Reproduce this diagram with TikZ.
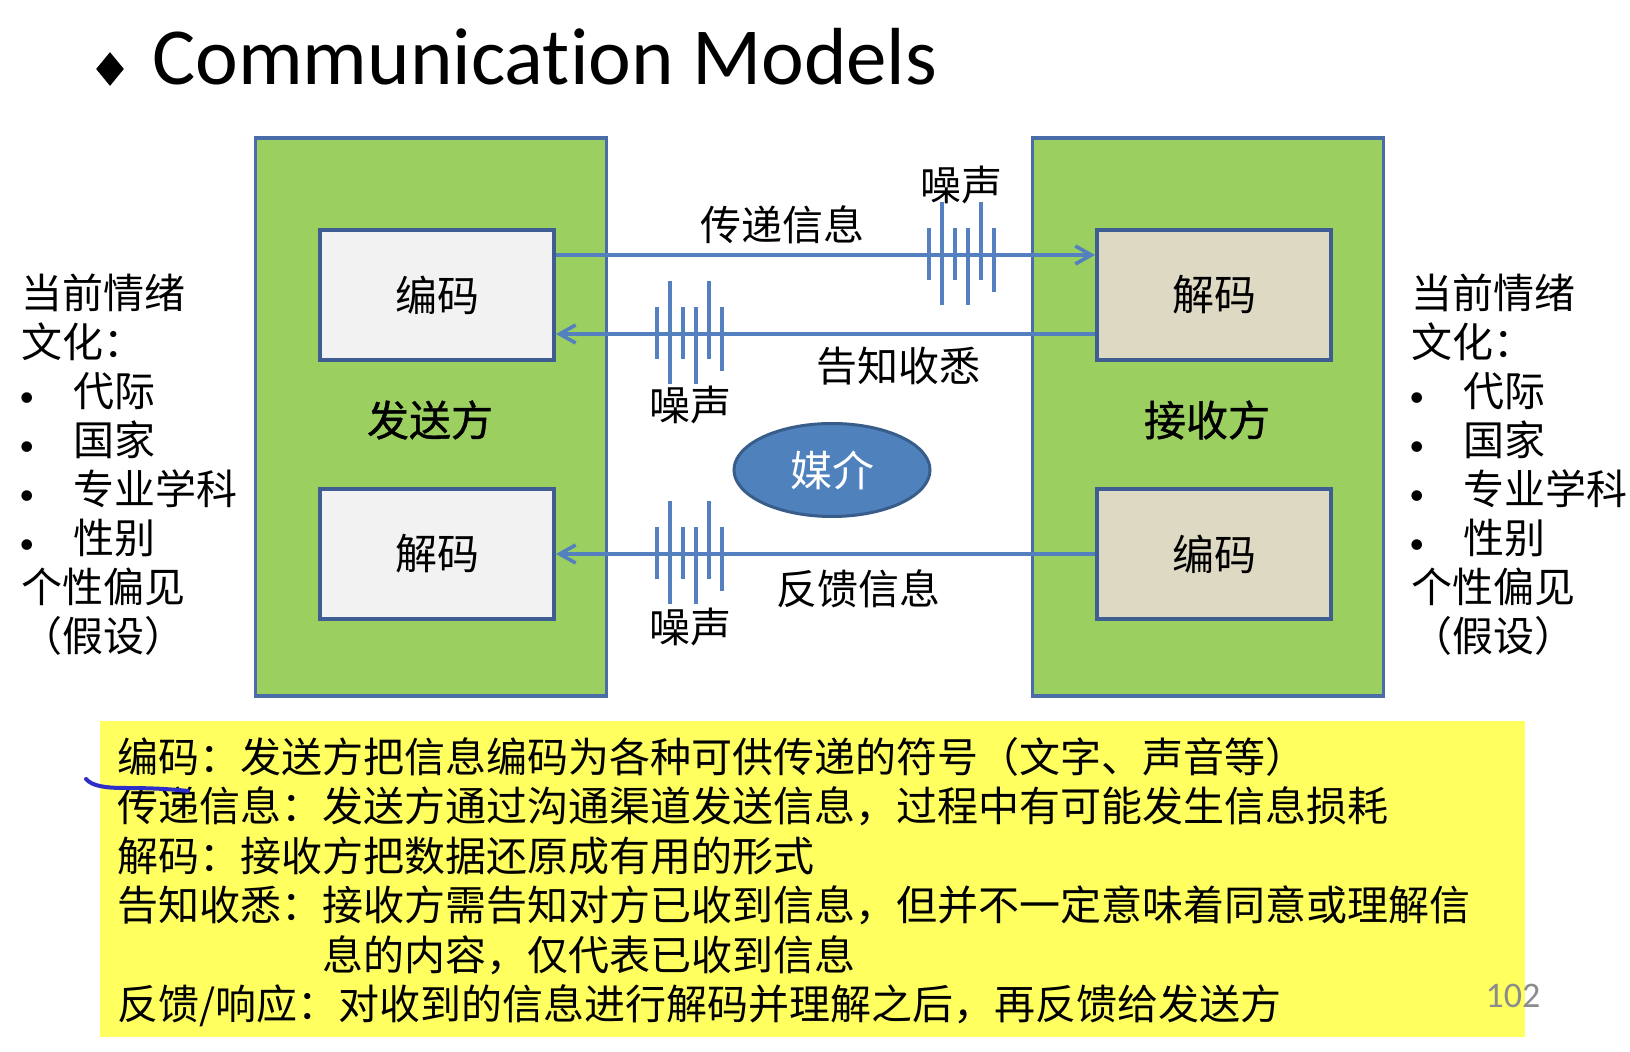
\documentclass[tikz,border=0pt]{standalone}
\usepackage{fontspec}
\setmainfont{Noto Sans CJK SC}
\newfontfamily\latinfont[Ligatures=NoCommon]{Carlito}
\newfontfamily\rolefont[FakeBold=1]{Noto Sans CJK SC}
\usepackage{xcolor}
\usepackage{tikz}
\usetikzlibrary{shapes.geometric, arrows.meta, positioning}

\definecolor{panelgreen}{HTML}{9BCF5F}
\definecolor{panelblue}{HTML}{4A6CA8}
\definecolor{boxblue}{HTML}{3E5D93}
\definecolor{boxgrey}{HTML}{F2F2F2}
\definecolor{boxtan}{HTML}{DDD9C3}
\definecolor{linkblue}{HTML}{5580C0}
\definecolor{mediumfill}{HTML}{4F81BD}
\definecolor{mediumdraw}{HTML}{385D8A}
\definecolor{noteyellow}{HTML}{FFFF5F}
\definecolor{penblue}{HTML}{2E2EC8}
\definecolor{pagegrey}{HTML}{8C8C8C}

\newcommand{\itm}{\makebox[26pt][l]{\hspace{-1pt}{\latinfont\fontsize{15pt}{15pt}\selectfont\textbullet}}}

\begin{document}
\begin{tikzpicture}[
    x=0.5pt, y=-0.5pt,
    panel/.style={rectangle, draw=panelblue, line width=1.6pt, fill=panelgreen, minimum width=175.5pt, minimum height=279pt},
    codebox/.style={rectangle, draw=boxblue, line width=2pt, minimum width=117pt, minimum height=65pt, font=\fontsize{21pt}{25pt}\selectfont},
    role/.style={font=\rolefont\fontsize{21pt}{25pt}\selectfont, inner sep=0pt},
    medium/.style={ellipse, draw=mediumdraw, line width=1.5pt, fill=mediumfill, text=white, minimum width=98pt, minimum height=46.5pt, font=\fontsize{21pt}{25pt}\selectfont},
    flow/.style={-{Straight Barb[length=8pt, width=9pt]}, line width=1.8pt, draw=linkblue},
    lbl/.style={font=\fontsize{20.5pt}{25pt}\selectfont, inner sep=0pt},
    noiseline/.style={line width=1.8pt, draw=linkblue},
    noise/.pic={
      \foreach \dx/\a/\b in {0/-27/25, 13/-53/50, 26/-27/25, 39/-27/50, 52/-53/25, 65/-27/37}
        \draw[noiseline] (\dx,\a) -- (\dx,\b);
    },
    factors/.style={anchor=north west, align=left, inner sep=0pt, font=\fontsize{20.5pt}{24.5pt}\selectfont},
    notes/.style={anchor=north west, align=left, inner sep=0pt, font=\fontsize{20.5pt}{24.7pt}\selectfont},
    pen/.style={draw=penblue, line width=2pt, line cap=round}
  ]

    \fill[white] (0,0) rectangle (1630,1052);
    \useasboundingbox (0,0) rectangle (1630,1052);

    % Title
    \node[diamond, fill=black, inner sep=0pt, minimum width=14pt, minimum height=17pt] (mark) at (110,69) {};
    \node[anchor=base west, inner sep=0pt, font=\latinfont\fontsize{40.5pt}{48pt}\selectfont] (title) at (152,85) {Communication Models};

    % Sender and receiver
    \node[panel] (sender) at (431,417) {};
    \node[panel] (receiver) at (1208,417) {};
    \node[codebox, fill=boxgrey] (senc) at (437,295) {编码};
    \node[codebox, fill=boxgrey] (sdec) at (437,554) {解码};
    \node[codebox, fill=boxtan] (rdec) at (1214,295) {解码};
    \node[codebox, fill=boxtan] (renc) at (1214,554) {编码};
    \node[role] (sname) at (430,420) {发送方};
    \node[role] (rname) at (1207,420) {接收方};

    % Medium
    \node[medium] (media) at (832,470) {媒介};

    % Flows
    \draw[flow] ([yshift=20pt]senc.east) -- node[lbl, pos=0.42, yshift=15pt] (msg) {传递信息} ([yshift=20pt]rdec.west);
    \draw[flow] ([yshift=-19.5pt]rdec.west) -- node[lbl, pos=0.365, yshift=-16pt] (ack) {告知收悉} ([yshift=-19.5pt]senc.east);
    \draw[flow] (renc.west) -- node[lbl, pos=0.438, yshift=-17.5pt] (fb) {反馈信息} (sdec.east);

    % Noise
    \pic at (929,255) {noise};
    \pic at (657,334) {noise};
    \pic at (657,554) {noise};
    \node[lbl] (noise1) at (961,185) {噪声};
    \node[lbl] (noise2) at (690,405) {噪声};
    \node[lbl] (noise3) at (690,627) {噪声};

    % Factors on both sides
    \node[factors] (sfactors) at (21,273) {当前情绪\\文化：\\\itm 代际\\\itm 国家\\\itm 专业学科\\\itm 性别\\个性偏见\\（假设）};
    \node[factors] (rfactors) at (1411,273) {当前情绪\\文化：\\\itm 代际\\\itm 国家\\\itm 专业学科\\\itm 性别\\个性偏见\\（假设）};

    % Notes
    \fill[noteyellow] (100,721) rectangle (1525,1037);
    \node[notes] (defs) at (117,737) {编码：发送方把信息编码为各种可供传递的符号（文字、声音等）\\
      传递信息：发送方通过沟通渠道发送信息，过程中有可能发生信息损耗\\
      解码：接收方把数据还原成有用的形式\\
      告知收悉：接收方需告知对方已收到信息，但并不一定意味着同意或理解信\\
      \hspace*{5em}息的内容，仅代表已收到信息\\
      反馈/响应：对收到的信息进行解码并理解之后，再反馈给发送方};
    \draw[pen] (86,779) .. controls (92,786) and (105,788) .. (125,788) .. controls (150,788) and (170,789) .. (188,791);
    \node[font=\latinfont\fontsize{18pt}{20pt}\selectfont, text=pagegrey, inner sep=0pt] (pageno) at (1513,996) {102};

  \end{tikzpicture}
\end{document}
